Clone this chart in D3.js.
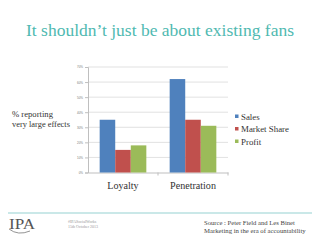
<!DOCTYPE html>
<html>
<head>
<meta charset="utf-8">
<script src="https://cdn.jsdelivr.net/npm/d3@7"></script>
<style>
  body { margin: 0; background: #fff; }
</style>
</head>
<body>
<svg id="chart" width="320" height="240"></svg>
<script>
const categories = ["Loyalty", "Penetration"];
const seriesNames = ["Sales", "Market Share", "Profit"];
const sales = [35, 62];
const marketShare = [15, 35];
const profit = [18, 31];
const yTicks = [0, 10, 20, 30, 40, 50, 60, 70];
const colors = ["#4f81bd", "#c0504d", "#9bbb59"];

const serif = "'Liberation Serif', serif";

const seriesValues = [sales, marketShare, profit];
const data = categories.map((c, i) => ({
    category: c,
    values: seriesNames.map((s, j) => ({ name: s, value: seriesValues[j][i] }))
}));

const svg = d3.select("#chart");
const plot = { left: 88, right: 228, top: 67, bottom: 172.5 };

// scale a text's font size so that it is the given width (Georgia is wider than Liberation Serif)
function fitWidth(sel, width) {
    sel.each(function () {
        const size = parseFloat(this.style.fontSize);
        const w = this.getComputedTextLength();
        if (w > 0) this.style.fontSize = (size * width / w) + "px";
    });
}

// title
svg.append("text")
    .attr("x", 26)
    .attr("y", 36)
    .style("font-family", serif)
    .style("font-size", "16px")
    .attr("textLength", 268)
    .attr("lengthAdjust", "spacingAndGlyphs")
    .attr("fill", "#4fb9b1")
    .text("It shouldn\u2019t just be about existing fans");

const x0 = d3.scaleBand()
    .domain(categories)
    .range([plot.left, plot.right])
    .padding(0);

const gap = x0.bandwidth() * 1.5 / 4.5 / 2;
const x1 = d3.scaleBand()
    .domain(seriesNames)
    .range([gap, x0.bandwidth() - gap])
    .padding(0);

const y = d3.scaleLinear()
    .domain([0, 70])
    .range([plot.bottom, plot.top]);

// gridlines
svg.append("g")
    .selectAll("line")
    .data(yTicks.slice(1))
    .enter().append("line")
    .attr("x1", plot.left)
    .attr("x2", plot.right)
    .attr("y1", d => y(d))
    .attr("y2", d => y(d))
    .attr("stroke", "#d9d9d9")
    .attr("stroke-width", 0.8);

// y axis
const gY = svg.append("g")
    .attr("transform", `translate(${plot.left},0)`)
    .call(d3.axisLeft(y).tickValues(yTicks).tickSize(3).tickPadding(2).tickFormat(d => d + "%"));
gY.select(".domain").attr("stroke", "#bfbfbf");
gY.selectAll(".tick line").attr("stroke", "#bfbfbf");
gY.attr("font-size", 3).attr("font-family", "'Liberation Sans', sans-serif");
gY.selectAll("text").attr("fill", "#777");

// x axis
const gX = svg.append("g")
    .attr("transform", `translate(0,${plot.bottom})`)
    .call(d3.axisBottom(x0).tickSize(0).tickFormat(""));
gX.select(".domain").attr("stroke", "#bfbfbf");
gX.selectAll(".edge")
    .data([plot.left + x0.bandwidth(), plot.right])
    .enter().append("line")
    .attr("x1", d => d).attr("x2", d => d)
    .attr("y1", 0).attr("y2", 3)
    .attr("stroke", "#bfbfbf");

// category labels, one size for both, taken from "Penetration"
const catText = svg.append("g")
    .selectAll("text")
    .data(categories)
    .enter().append("text")
    .attr("x", d => x0(d) + x0.bandwidth() / 2)
    .attr("y", 189)
    .attr("text-anchor", "middle")
    .style("font-family", serif)
    .style("font-size", "10px")
    .attr("fill", "#333")
    .text(d => d);
catText.filter(d => d === "Penetration").call(fitWidth, 46);
catText.style("font-size", catText.filter(d => d === "Penetration").style("font-size"));

// bars
const groups = svg.append("g")
    .selectAll("g")
    .data(data)
    .enter().append("g")
    .attr("transform", d => `translate(${x0(d.category)},0)`);

groups.selectAll("rect")
    .data(d => d.values)
    .enter().append("rect")
    .attr("x", d => x1(d.name))
    .attr("width", x1.bandwidth())
    .attr("y", d => y(d.value))
    .attr("height", d => y(0) - y(d.value))
    .attr("fill", (d, i) => colors[i]);

// y label
svg.append("text")
    .attr("x", 12)
    .attr("y", 117)
    .style("font-family", serif)
    .style("font-size", "9px")
    .attr("fill", "#333")
    .text("% reporting")
    .call(fitWidth, 41);
svg.append("text")
    .attr("x", 12)
    .attr("y", 126.5)
    .style("font-family", serif)
    .style("font-size", "9px")
    .attr("fill", "#333")
    .text("very large effects")
    .call(fitWidth, 58);

// legend
const legend = svg.append("g")
    .selectAll("g")
    .data(seriesNames)
    .enter().append("g")
    .attr("transform", (d, i) => `translate(235,${116.5 + i * 12.5})`);
legend.append("rect")
    .attr("x", 0).attr("y", -2)
    .attr("width", 3.5).attr("height", 3.5)
    .attr("fill", (d, i) => colors[i]);
const legendText = legend.append("text")
    .attr("x", 6)
    .attr("y", 3)
    .style("font-family", serif)
    .style("font-size", "9px")
    .attr("fill", "#333")
    .text(d => d);
// same size for all three, taken from "Market Share"
legendText.filter(d => d === "Market Share").call(fitWidth, 48);
legendText.style("font-size", legendText.filter(d => d === "Market Share").style("font-size"));

// footer
svg.append("line")
    .attr("x1", 8).attr("x2", 312)
    .attr("y1", 213).attr("y2", 213)
    .attr("stroke", "#b9e1e1")
    .attr("stroke-width", 1.5);

svg.append("text")
    .attr("x", 9)
    .attr("y", 229)
    .style("font-family", serif)
    .style("font-size", "14px")
    .attr("fill", "#555")
    .attr("textLength", 26)
    .attr("lengthAdjust", "spacingAndGlyphs")
    .text("IPA");
svg.append("path")
    .attr("d", "M9,229 Q18,236 30,231")
    .attr("fill", "none")
    .attr("stroke", "#777")
    .attr("stroke-width", 0.8);

svg.append("text")
    .attr("x", 68).attr("y", 223)
    .style("font-family", serif)
    .style("font-size", "4px")
    .attr("fill", "#999")
    .text("#IPASocialWorks");
svg.append("text")
    .attr("x", 68).attr("y", 228)
    .style("font-family", serif)
    .style("font-size", "4px")
    .attr("fill", "#999")
    .text("15th October 2013");

svg.append("text")
    .attr("x", 204).attr("y", 225)
    .style("font-family", serif)
    .style("font-size", "6.5px")
    .attr("fill", "#444")
    .text("Source : Peter Field and Les Binet")
    .call(fitWidth, 91);
svg.append("text")
    .attr("x", 204).attr("y", 233)
    .style("font-family", serif)
    .style("font-size", "6.5px")
    .attr("fill", "#444")
    .text("Marketing in the era of accountability")
    .call(fitWidth, 102);
</script>
</body>
</html>
